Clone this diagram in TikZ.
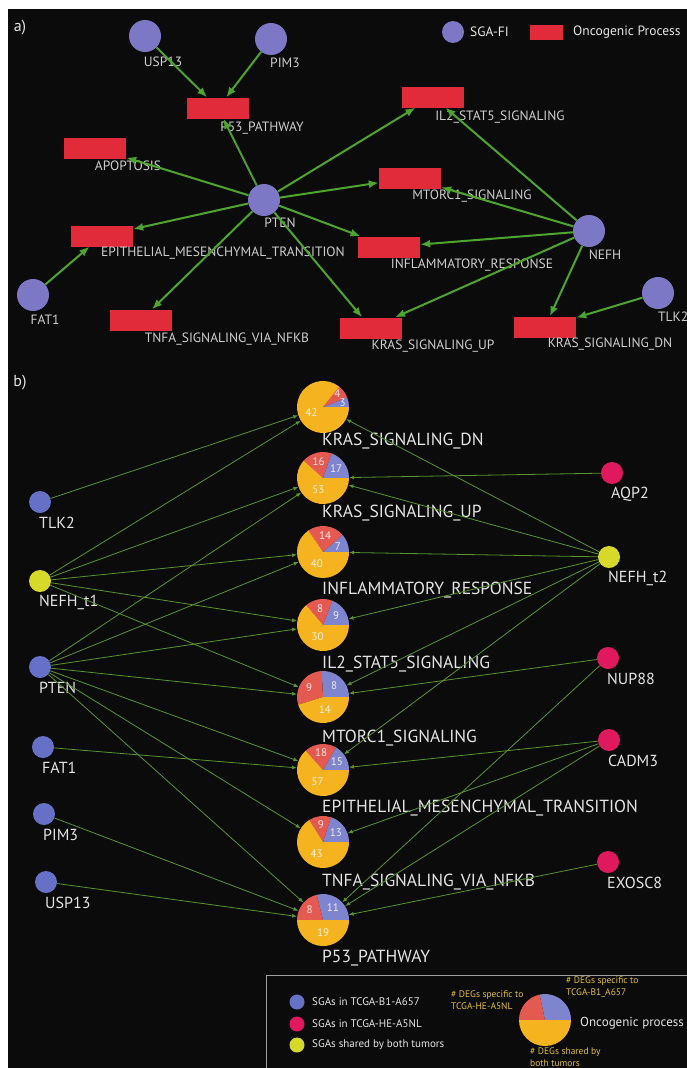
\documentclass[tikz,border=0pt]{standalone}
\usepackage{fontspec}
\setmainfont{PT Sans}
\usetikzlibrary{arrows.meta}
\definecolor{bgblack}{HTML}{0B0B0B}
\definecolor{sgaA}{HTML}{7C78C6}
\definecolor{procred}{HTML}{E12A3A}
\definecolor{edgeA}{HTML}{4EA52E}
\definecolor{edgeB}{HTML}{5A942E}
\definecolor{labA}{HTML}{CDCDCD}
\definecolor{labB}{HTML}{E4E4E4}
\definecolor{sgaB}{HTML}{6670C6}
\definecolor{sgaM}{HTML}{E0195E}
\definecolor{sgaY}{HTML}{D6D82A}
\definecolor{pieB}{HTML}{7E84CD}
\definecolor{pieR}{HTML}{E55A50}
\definecolor{pieY}{HTML}{F5B320}
\definecolor{annot}{HTML}{E3C025}
\definecolor{legline}{HTML}{A0A0A0}

\newcommand{\mypie}[8]{%
  \pgfmathsetmacro{\qT}{#4+#5+#6}%
  \pgfmathsetmacro{\qA}{360*#4/\qT}%
  \pgfmathsetmacro{\qB}{\qA+360*#5/\qT}%
  \pgfmathsetmacro{\qmA}{\qA/2}%
  \pgfmathsetmacro{\qmB}{(\qA+\qB)/2+(\qA<40 ? 7 : 0)}%
  \pgfmathsetmacro{\qmC}{(\qB+360)/2}%
  \pgfmathsetmacro{\qrA}{\qA<40 ? 20 : 16}%
  \pgfmathsetmacro{\qrB}{(\qB-\qA)<40 ? 20 : 17}%
  \node[pienode] (#1) at (#2,#3) {};
  \fill[pieB] (#1.center) -- ++(0:26pt) arc[start angle=0,end angle=\qA,radius=26pt] -- cycle;
  \fill[pieR] (#1.center) -- ++(\qA:26pt) arc[start angle=\qA,end angle=\qB,radius=26pt] -- cycle;
  \fill[pieY] (#1.center) -- ++(\qB:26pt) arc[start angle=\qB,end angle=360,radius=26pt] -- cycle;
  \path (#1.center) ++(\qmA:\qrA pt) node[pienum] (#1-nb) {#4};
  \path (#1.center) ++(\qmB:\qrB pt) node[pienum] (#1-nr) {#5};
  \path (#1.center) ++(\qmC:13pt) node[pienum] (#1-ny) {#6};
  \node[labp,anchor=west] (#1-lab) at (#2-1,#8) {#7};
}
\newcommand{\sgabnode}[5]{%
  \node[sgab,fill=#4] (#1) at (#2,#3) {};
  \node[labb,anchor=west] (#1-l) at (#2-1,#3+21) {#5};
}

\begin{document}
\begin{tikzpicture}[x=1pt,y=-1pt,
  sgaa/.style={circle,fill=sgaA,minimum size=32pt,inner sep=0pt},
  proc/.style={rectangle,fill=procred,minimum width=62pt,minimum height=21pt,inner sep=0pt},
  laba/.style={text=labA,font=\fontsize{13.5}{15}\selectfont,inner sep=0pt},
  edgea/.style={draw=edgeA,line width=2pt,-{Latex[length=10pt,width=8pt]}},
  sgab/.style={circle,minimum size=22pt,inner sep=0pt},
  labb/.style={text=labB,font=\fontsize{16}{18}\selectfont,inner sep=0pt},
  labp/.style={text=labB,font=\fontsize{17.5}{19}\selectfont,inner sep=0pt},
  pienode/.style={circle,minimum size=52pt,inner sep=0pt},
  pienum/.style={text=white,text opacity=0.85,font=\fontsize{11}{13}\selectfont,inner sep=0pt},
  edgeb/.style={draw=edgeB,line width=0.8pt,-{Latex[length=5pt,width=4pt]}},
  legtext/.style={text=labB,font=\fontsize{11}{13}\selectfont,inner sep=0pt,anchor=west},
  annotext/.style={text=annot,font=\fontsize{9.5}{11.5}\selectfont,inner sep=0pt,anchor=north west,align=left},
  panel/.style={text=labB,font=\fontsize{16}{18}\selectfont,inner sep=0pt}
]
\useasboundingbox (0,0) rectangle (687,1068);
\fill[white] (0,0) rectangle (687,1068);
\fill[bgblack] (8,9) rectangle (687,1068);

% ---------------- panel a ----------------
\node[panel] (pa) at (20,28) {a)};
% legend
\node[circle,fill=sgaA,minimum size=22pt,inner sep=0pt] (legA1) at (453,32) {};
\node[laba,anchor=west,text=labB] (legA1t) at (470,32) {SGA-FI};
\node[rectangle,fill=procred,minimum width=33pt,minimum height=15pt,inner sep=0pt] (legA2) at (546.5,32.5) {};
\node[laba,anchor=west,text=labB] (legA2t) at (573,32) {Oncogenic Process};

% SGA nodes
\node[sgaa] (aUSP13) at (145,36) {};
\node[sgaa] (aPIM3) at (271,39) {};
\node[sgaa] (aPTEN) at (264,200) {};
\node[sgaa] (aFAT1) at (33,295) {};
\node[sgaa] (aNEFH) at (589,231) {};
\node[sgaa] (aTLK2) at (658,293) {};
\node[laba] (aUSP13l) at (163,62) {USP13};
\node[laba] (aPIM3l) at (285,63) {PIM3};
\node[laba] (aPTENl) at (280,223) {PTEN};
\node[laba] (aFAT1l) at (45,320) {FAT1};
\node[laba] (aNEFHl) at (605,255) {NEFH};
\node[laba,anchor=west] (aTLK2l) at (658,317) {TLK2};

% processes
\node[proc] (aP53) at (218,108) {};
\node[proc] (aAPO) at (95,148) {};
\node[proc] (aEMT) at (102,236) {};
\node[proc] (aTNFA) at (141,320) {};
\node[proc] (aIL2) at (433,97) {};
\node[proc] (aMTOR) at (410,178) {};
\node[proc] (aINFL) at (389,247) {};
\node[proc] (aKUP) at (371,328) {};
\node[proc] (aKDN) at (545,327) {};
\node[laba] (aP53l) at (262,128) {P53\_PATHWAY};
\node[laba] (aAPOl) at (128,166) {APOPTOSIS};
\node[laba] (aEMTl) at (223,253) {EPITHELIAL\_MESENCHYMAL\_TRANSITION};
\node[laba] (aTNFAl) at (227,339) {TNFA\_SIGNALING\_VIA\_NFKB};
\node[laba] (aIL2l) at (500,117) {IL2\_STAT5\_SIGNALING};
\node[laba] (aMTORl) at (472,196) {MTORC1\_SIGNALING};
\node[laba] (aINFLl) at (472,265) {INFLAMMATORY\_RESPONSE};
\node[laba] (aKUPl) at (433,346) {KRAS\_SIGNALING\_UP};
\node[laba] (aKDNl) at (610,344) {KRAS\_SIGNALING\_DN};

% edges a
\draw[edgea] (aUSP13) -- (aP53);
\draw[edgea] (aPIM3) -- (aP53);
\draw[edgea] (aPTEN) -- (aP53);
\draw[edgea] (aPTEN) -- (aAPO);
\draw[edgea] (aPTEN) -- (aIL2);
\draw[edgea] (aPTEN) -- (aMTOR);
\draw[edgea] (aPTEN) -- (aEMT);
\draw[edgea] (aPTEN) -- (aINFL);
\draw[edgea] (aPTEN) -- (aTNFA);
\draw[edgea] (aPTEN) -- (aKUP);
\draw[edgea] (aFAT1) -- (aEMT);
\draw[edgea] (aNEFH) -- (aIL2);
\draw[edgea] (aNEFH) -- (aMTOR);
\draw[edgea] (aNEFH) -- (aINFL);
\draw[edgea] (aNEFH) -- (aKUP);
\draw[edgea] (aNEFH) -- (aKDN);
\draw[edgea] (aTLK2) -- (aKDN);

% ---------------- panel b ----------------
\node[panel] (pb) at (20,383) {b)};

\mypie{kdn}{323}{407}{3}{4}{42}{KRAS\_SIGNALING\_DN}{441}
\mypie{kup}{323}{478}{17}{16}{53}{KRAS\_SIGNALING\_UP}{513}
\mypie{infl}{323}{552}{7}{14}{40}{INFLAMMATORY\_RESPONSE}{590}
\mypie{il2}{323}{625}{9}{8}{30}{IL2\_STAT5\_SIGNALING}{664}
\mypie{mtor}{323}{697}{8}{9}{14}{MTORC1\_SIGNALING}{738}
\mypie{emt}{323}{770}{15}{18}{57}{EPITHELIAL\_MESENCHYMAL\_TRANSITION}{808}
\mypie{tnfa}{323}{842}{13}{9}{43}{TNFA\_SIGNALING\_VIA\_NFKB}{882}
\mypie{p53}{323}{920}{11}{8}{19}{P53\_PATHWAY}{958}

\sgabnode{bTLK2}{40}{502}{sgaB}{TLK2}
\sgabnode{bNEFH1}{40}{581}{sgaY}{NEFH\_t1}
\sgabnode{bPTEN}{40}{667}{sgaB}{PTEN}
\sgabnode{bFAT1}{43}{747}{sgaB}{FAT1}
\sgabnode{bPIM3}{44}{814}{sgaB}{PIM3}
\sgabnode{bUSP13}{46}{882}{sgaB}{USP13}
\sgabnode{bAQP2}{612}{473}{sgaM}{AQP2}
\sgabnode{bNEFH2}{609}{557}{sgaY}{NEFH\_t2}
\sgabnode{bNUP88}{608}{658}{sgaM}{NUP88}
\sgabnode{bCADM3}{609}{740}{sgaM}{CADM3}
\sgabnode{bEXOSC8}{608}{862}{sgaM}{EXOSC8}

% edges b
\draw[edgeb] (bTLK2) -- (kdn);
\foreach \t in {kdn,kup,infl,il2,mtor} \draw[edgeb] (bNEFH1) -- (\t);
\foreach \t in {kup,infl,il2,mtor,emt,tnfa,p53} \draw[edgeb] (bPTEN) -- (\t);
\draw[edgeb] (bFAT1) -- (emt);
\draw[edgeb] (bPIM3) -- (p53);
\draw[edgeb] (bUSP13) -- (p53);
\draw[edgeb] (bAQP2) -- (kup);
\foreach \t in {kdn,kup,infl,il2,mtor,emt} \draw[edgeb] (bNEFH2) -- (\t);
\draw[edgeb] (bNUP88) -- (mtor);
\draw[edgeb] (bNUP88) -- (p53);
\draw[edgeb] (bCADM3) -- (emt);
\draw[edgeb] (bCADM3) -- (tnfa);
\draw[edgeb] (bCADM3) -- (p53);
\draw[edgeb] (bEXOSC8) -- (p53);

% legend b
\draw[legline,line width=1pt] (266,975) rectangle (700,1080);
\node[circle,fill=sgaB,minimum size=15pt,inner sep=0pt] (lgB) at (297,1002) {};
\node[circle,fill=sgaM,minimum size=15pt,inner sep=0pt] (lgM) at (297,1024) {};
\node[circle,fill=sgaY,minimum size=15pt,inner sep=0pt] (lgY) at (297,1045) {};
\node[legtext] (lgBt) at (312,1002) {SGAs in TCGA-B1-A657};
\node[legtext] (lgMt) at (312,1024) {SGAs in TCGA-HE-A5NL};
\node[legtext] (lgYt) at (312,1045) {SGAs shared by both tumors};
\node[pienode] (lgpie) at (545,1020) {};
\fill[pieB] (lgpie.center) -- ++(0:26pt) arc[start angle=0,end angle=102,radius=26pt] -- cycle;
\fill[pieR] (lgpie.center) -- ++(102:26pt) arc[start angle=102,end angle=180,radius=26pt] -- cycle;
\fill[pieY] (lgpie.center) -- ++(180:26pt) arc[start angle=180,end angle=360,radius=26pt] -- cycle;
\node[text=labB,font=\fontsize{13}{15}\selectfont,inner sep=0pt,anchor=west] (lgproc) at (580,1023) {Oncogenic process};
\node[annotext] (an1) at (451,991) {\# DEGs specific to\\TCGA-HE-A5NL};
\node[annotext] (an2) at (566,977) {\# DEGs specific to\\TCGA-B1\_A657};
\node[annotext] (an3) at (530,1048) {\# DEGs shared by\\both tumors};
\end{tikzpicture}
\end{document}
